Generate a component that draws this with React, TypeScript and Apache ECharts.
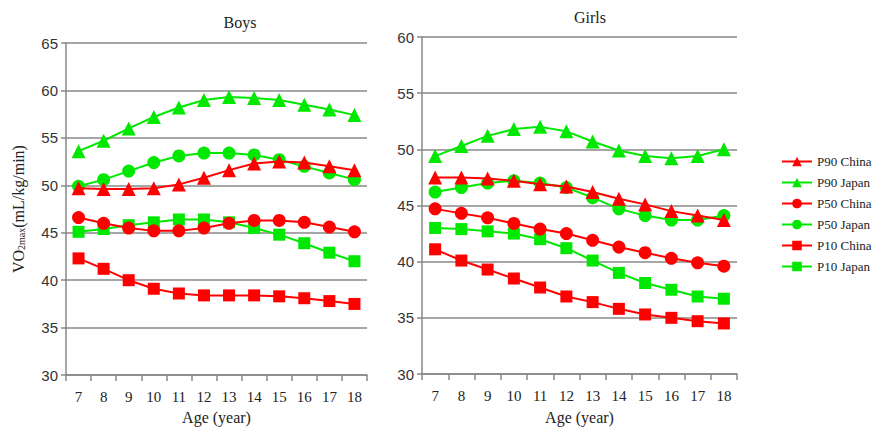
import React, { useEffect, useRef } from "react";
import * as echarts from "echarts";

const ages = ["7", "8", "9", "10", "11", "12", "13", "14", "15", "16", "17", "18"];

const boysP90China = [49.7, 49.6, 49.6, 49.7, 50.1, 50.8, 51.6, 52.3, 52.5, 52.4, 52.0, 51.6];
const boysP90Japan = [53.6, 54.7, 56.0, 57.2, 58.2, 59.0, 59.3, 59.2, 59.0, 58.5, 58.0, 57.4];
const boysP50China = [46.6, 46.0, 45.5, 45.2, 45.2, 45.5, 46.0, 46.3, 46.3, 46.1, 45.6, 45.1];
const boysP50Japan = [49.9, 50.6, 51.5, 52.4, 53.1, 53.4, 53.4, 53.2, 52.7, 52.0, 51.3, 50.6];
const boysP10China = [42.3, 41.2, 40.0, 39.1, 38.6, 38.4, 38.4, 38.4, 38.3, 38.1, 37.8, 37.5];
const boysP10Japan = [45.1, 45.4, 45.8, 46.1, 46.4, 46.4, 46.1, 45.5, 44.8, 43.9, 42.9, 42.0];

const girlsP90China = [47.5, 47.5, 47.4, 47.2, 46.9, 46.7, 46.2, 45.6, 45.1, 44.5, 44.1, 43.7];
const girlsP90Japan = [49.4, 50.3, 51.2, 51.8, 52.0, 51.6, 50.7, 49.9, 49.4, 49.2, 49.4, 50.0];
const girlsP50China = [44.7, 44.3, 43.9, 43.4, 42.9, 42.5, 41.9, 41.3, 40.8, 40.3, 39.9, 39.6];
const girlsP50Japan = [46.2, 46.6, 47.0, 47.2, 47.0, 46.6, 45.7, 44.7, 44.1, 43.7, 43.7, 44.1];
const girlsP10China = [41.1, 40.1, 39.3, 38.5, 37.7, 36.9, 36.4, 35.8, 35.3, 35.0, 34.7, 34.5];
const girlsP10Japan = [43.0, 42.9, 42.7, 42.5, 42.0, 41.2, 40.1, 39.0, 38.1, 37.5, 36.9, 36.7];

const seriesNames = ["P90 China", "P90 Japan", "P50 China", "P50 Japan", "P10 China", "P10 Japan"];

const RED = "#ff0000";
const GREEN = "#00e800";
const SERIF = "'Liberation Serif', 'Times New Roman', serif";
const SANS = "'Liberation Sans', Arial, sans-serif";

export default function App() {
  const ref = useRef<HTMLDivElement>(null);

  useEffect(() => {
    if (!ref.current) return;
    document.body.style.margin = "0";
    document.body.style.overflow = "hidden";
    const chart = echarts.init(ref.current, null, { renderer: "svg" });

    const styles = [
      { color: RED, symbol: "triangle", size: 14 },
      { color: GREEN, symbol: "triangle", size: 14 },
      { color: RED, symbol: "circle", size: 13 },
      { color: GREEN, symbol: "circle", size: 13 },
      { color: RED, symbol: "rect", size: 12 },
      { color: GREEN, symbol: "rect", size: 12 },
    ];
    const boys = [boysP90China, boysP90Japan, boysP50China, boysP50Japan, boysP10China, boysP10Japan];
    const girls = [girlsP90China, girlsP90Japan, girlsP50China, girlsP50Japan, girlsP10China, girlsP10Japan];

    const mkSeries = (data: number[][], idx: number) =>
      data.map((d, i) => ({
        name: seriesNames[i],
        type: "line",
        xAxisIndex: idx,
        yAxisIndex: idx,
        data: d,
        symbol: styles[i].symbol,
        symbolSize: styles[i].size,
        lineStyle: { color: styles[i].color, width: 2 },
        itemStyle: { color: styles[i].color },
        z: 10 - i,
      }));

    const xAxisBase = {
      type: "category",
      data: ages,
      boundaryGap: true,
      axisLine: { lineStyle: { color: "#888888", width: 1.5 } },
      axisTick: { show: true, inside: false, length: 6, alignWithLabel: false, lineStyle: { color: "#888888", width: 1.5 } },
      axisLabel: { color: "#222", fontFamily: SERIF, fontSize: 15, margin: 14 },
      name: "Age (year)",
      nameLocation: "middle",
      nameTextStyle: { color: "#222", fontFamily: SERIF, fontSize: 16 },
      splitLine: { show: false },
    };

    const yAxisBase = (min: number, max: number) => ({
      type: "value",
      min,
      max,
      interval: 5,
      axisLine: { show: true, lineStyle: { color: "#888888", width: 1.5 } },
      axisTick: { show: true, length: 5, lineStyle: { color: "#888888", width: 1.5 } },
      axisLabel: { color: "#333", fontFamily: SANS, fontSize: 15, margin: 8 },
      splitLine: { show: true, lineStyle: { color: "#888888", width: 1.5 } },
    });

    chart.setOption({
      animation: false,
      backgroundColor: "#ffffff",
      title: [
        { text: "Boys", left: 235, top: 9, textAlign: "center", textStyle: { fontFamily: SERIF, fontSize: 16, fontWeight: "normal", color: "#222" } },
        { text: "Girls", left: 585, top: 4, textAlign: "center", textStyle: { fontFamily: SERIF, fontSize: 16, fontWeight: "normal", color: "#222" } },
      ],
      legend: {
        data: seriesNames,
        orient: "vertical",
        left: 776,
        top: 150,
        itemWidth: 30,
        itemHeight: 12,
        itemGap: 8,
        textStyle: { fontFamily: SERIF, fontSize: 13, color: "#222" },
      },
      grid: [
        { left: 66, right: 510, top: 43, bottom: 51 },
        { left: 422, right: 140, top: 37, bottom: 55 },
      ],
      xAxis: [
        { ...xAxisBase, gridIndex: 0, nameGap: 30 },
        { ...xAxisBase, gridIndex: 1, nameGap: 35 },
      ],
      yAxis: [
        {
          ...yAxisBase(30, 65),
          gridIndex: 0,
          name: "{a|VO}{b|2max}{a|(mL/kg/min)}",
          nameLocation: "middle",
          nameGap: 40,
          nameTextStyle: {
            rich: {
              a: { fontFamily: SERIF, fontSize: 16, color: "#222" },
              b: { fontFamily: SERIF, fontSize: 10, color: "#222", verticalAlign: "bottom", padding: [6, 0, 0, 0] },
            },
          },
        },
        { ...yAxisBase(30, 60), gridIndex: 1 },
      ],
      series: [...mkSeries(boys, 0), ...mkSeries(girls, 1)],
    });

    return () => chart.dispose();
  }, []);

  return <div ref={ref} style={{ position: "fixed", left: 0, top: 0, width: 877, height: 430 }} />;
}
